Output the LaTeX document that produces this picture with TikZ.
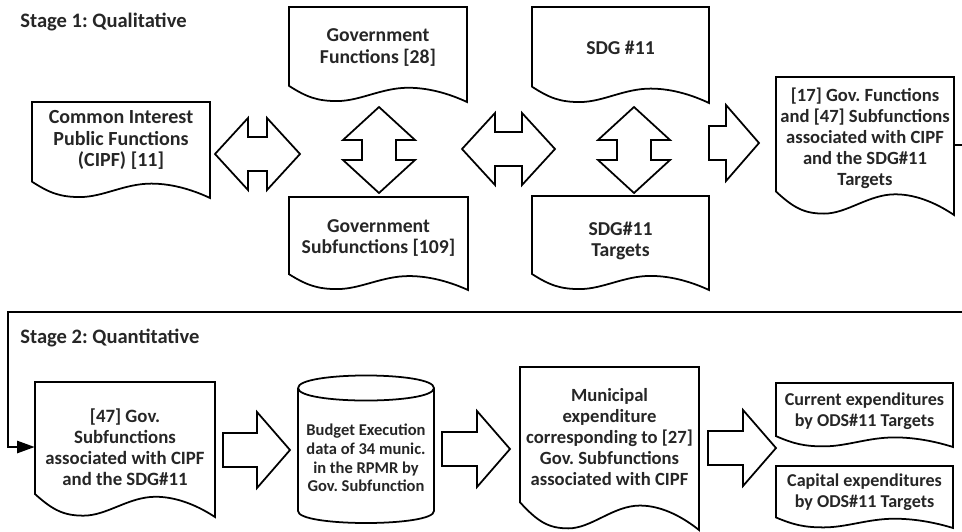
\documentclass[tikz,border=0pt]{standalone}
\usepackage{fontspec}
\setmainfont{Carlito}
\frenchspacing
\usetikzlibrary{arrows.meta,calc}
\definecolor{figline}{RGB}{0,0,0}
\definecolor{figtext}{RGB}{38,38,38}
\tikzset{
  docline/.style ={draw=figline, line width=1pt, fill=white},
  blk/.style     ={draw=figline, line width=1pt, fill=white, line join=miter},
  doctext/.style ={font=\fontsize{#1}{12}\selectfont\bfseries, text=figtext, align=center, inner sep=0pt},
  cyltext/.style ={font=\fontsize{9.4}{10.6}\selectfont\bfseries, text=figtext, align=center, inner sep=0pt},
  head/.style    ={font=\fontsize{11.7}{13}\selectfont\bfseries, text=figtext, inner sep=0pt},
  link/.style    ={draw=figline, line width=1pt, -{Triangle[length=10pt,width=7pt]}},
  pics/dblarrow/.style={code={
    \draw[blk] (-#1,0) -- ({-#1+33},-36) -- ({-#1+33},-17) -- ({#1-33},-17) -- ({#1-33},-36)
      -- (#1,0) -- ({#1-33},36) -- ({#1-33},17) -- ({-#1+33},17) -- ({-#1+33},36) -- cycle;
  }},
  pics/onearrow/.style={code={
    \draw[blk] (-#1,-17) -- (-33,-17) -- (-33,-38) -- (0,0) -- (-33,38) -- (-33,17) -- (-#1,17) -- cycle;
  }},
}
% document box: [font size] name, left, top, width, height, text y, text
\newcommand{\docbox}[8][11.2]{%
  \draw[docline] (#3,#4) -- ({#3+#5},#4) -- ({#3+#5},{#4+#6})
    .. controls ({#3+0.92*#5},{#4+0.93*#6}) and ({#3+0.8*#5},{#4+0.85*#6}) .. ({#3+0.67*#5},{#4+0.85*#6})
    .. controls ({#3+0.52*#5},{#4+0.85*#6}) and ({#3+0.4*#5},{#4+0.99*#6}) .. ({#3+0.27*#5},{#4+0.99*#6})
    .. controls ({#3+0.16*#5},{#4+0.99*#6}) and ({#3+0.1*#5},{#4+0.95*#6}) .. (#3,{#4+0.83*#6})
    -- cycle;
  \node[doctext=#1, minimum width={#5*0.02cm}] (#2) at ({#3+#5/2},#7) {#8};
}

\begin{document}
\begin{tikzpicture}[x=0.02cm, y=-0.02cm]
  \path[use as bounding box, clip] (0,0) rectangle (962,531);
  % stage 1
  \node[head, anchor=west] (stage1) at (20,22) {Stage 1: Qualitative};
  \docbox[11.4]{cipf}{32}{102}{178}{96}{140}{Common Interest\\Public Functions\\(CIPF) [11]}
  \docbox{govfun}{289}{7}{178}{95}{47.5}{Government\\Functions [28]}
  \docbox{govsub}{289}{197}{179}{93}{238}{Government\\Subfunctions [109]}
  \docbox{sdg}{532}{7}{177}{96}{48}{SDG \#11}
  \docbox{sdgtar}{532}{196}{177}{94}{241}{SDG\#11\\Targets}
  \docbox[10.6]{res}{776}{77}{178}{138}{138}{[17] Gov. Functions\\and [47] Subfunctions\\associated with CIPF\\and the SDG\#11\\Targets}
  \pic at (257.5,154) {dblarrow=42.5};
  \pic[rotate=90] at (379,150) {dblarrow=43};
  \pic at (508.5,149) {dblarrow=46.5};
  \pic[rotate=90] at (634,150) {dblarrow=43};
  \pic at (759,143) {onearrow=50};
  % stage 2
  \node[head, anchor=west] (stage2) at (20,338) {Stage 2: Quantitative};
  \docbox[10.7]{sub47}{35}{382}{180}{135}{447}{[47] Gov.\\Subfunctions\\associated with CIPF\\and the SDG\#11}
  \draw[docline] (298,388) -- (298,511) .. controls (298,527) and (434,527) .. (434,511) -- (434,388)
    .. controls (434,371.3) and (298,371.3) .. (298,388);
  \draw[docline] (298,388) .. controls (298,404.7) and (434,404.7) .. (434,388);
  \node[cyltext] (budget) at (366,458) {Budget Execution\\data of 34 munic.\\in the RPMR by\\Gov. Subfunction};
  \docbox[10.6]{munexp}{520}{367}{179}{163}{437}{Municipal\\expenditure\\corresponding to [27]\\Gov. Subfunctions\\associated with CIPF}
  \docbox[10.3]{curexp}{776}{383}{177}{64}{411.5}{Current expenditures\\by ODS\#11 Targets}
  \docbox[10.3]{capexp}{776}{466}{177}{62}{492.5}{Capital expenditures\\by ODS\#11 Targets}
  \pic at (290,450) {onearrow=67};
  \pic at (510,449) {onearrow=68};
  \pic at (776,448) {onearrow=68};
  % link between the stages
  \coordinate (turnR) at (975,312);
  \coordinate (turnL) at (8,312);
  \draw[link] ([yshift=-0.14cm]res.east) -| (turnR) -- (turnL) |- (sub47.west);
\end{tikzpicture}
\end{document}
